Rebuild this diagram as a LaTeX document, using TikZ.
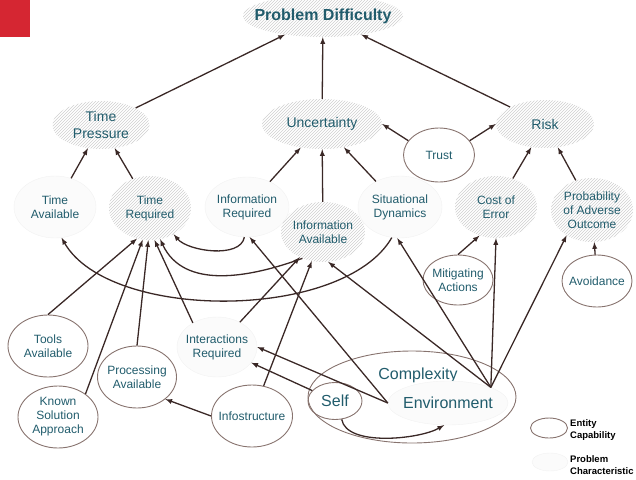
\documentclass[tikz,border=0pt]{standalone}
\usepackage{fontspec}
\setmainfont{Liberation Sans}
\usepackage{xcolor}
\usepackage{tikz}
\usetikzlibrary{arrows,shapes.geometric,patterns}

\definecolor{tealtext}{RGB}{33,92,108}
\definecolor{linebrown}{RGB}{58,40,38}
\definecolor{rimbrown}{RGB}{135,115,110}
\definecolor{cornerred}{RGB}{213,38,50}

\begin{document}
\begin{tikzpicture}[x=1pt,y=-1pt,>=latex,
  every node/.style={shape=ellipse,inner xsep=-6pt,inner ysep=0pt,align=center,text=tealtext,font=\fontsize{12}{14}\selectfont},
  hatch/.style={pattern=north east lines,pattern color=gray!38},
  faint/.style={draw=gray!10,fill=gray!3},
  entity/.style={draw=rimbrown,line width=0.9pt},
  big/.style={font=\fontsize{14}{17}\selectfont},
  link/.style={->,draw=linebrown,line width=1.3pt}]
\useasboundingbox (0,0) rectangle (636,479);
\fill[cornerred] (0,0) rectangle (30,37);

% goal and top factors
\node[hatch,inner xsep=-15pt,minimum width=160,minimum height=42,font=\bfseries\fontsize{16}{18}\selectfont] (PD) at (323,16) {Problem Difficulty};
\node[hatch,big,minimum width=97,minimum height=48] (TP) at (101,125) {Time\\Pressure};
\node[hatch,big,minimum width=120,minimum height=50] (UN) at (322,124) {Uncertainty};
\node[hatch,big,minimum width=98,minimum height=48] (RI) at (545,124) {Risk};
\node[entity,minimum width=71,minimum height=54] (TR) at (439,155) {Trust};

% second row
\node[faint,minimum width=82,minimum height=62] (TA) at (55,207) {Time\\Available};
\node[hatch,minimum width=82,minimum height=64] (TQ) at (150,208) {Time\\Required};
\node[faint,minimum width=84,minimum height=60] (IR) at (247,207) {Information\\Required};
\node[hatch,minimum width=84,minimum height=60] (IA) at (323,232) {Information\\Available};
\node[faint,minimum width=84,minimum height=62] (SD) at (400,207) {Situational\\Dynamics};
\node[hatch,minimum width=82,minimum height=62] (CE) at (496,207) {Cost of\\Error};
\node[hatch,minimum width=82,minimum height=64] (PA) at (592,210) {Probability\\of Adverse\\Outcome};

% capabilities
\node[entity,minimum width=70,minimum height=50] (MA) at (458,280) {Mitigating\\Actions};
\node[entity,minimum width=70,minimum height=52] (AV) at (597,281) {Avoidance};
\node[entity,minimum width=80,minimum height=62] (TO) at (48,346) {Tools\\Available};
\node[faint,minimum width=80,minimum height=60] (IQ) at (217,347) {Interactions\\Required};
\node[entity,minimum width=80,minimum height=62] (KS) at (58,417) {Known\\Solution\\Approach};
\node[entity,minimum width=79,minimum height=62] (PR) at (137,377) {Processing\\Available};
\node[entity,minimum width=81,minimum height=62] (IS) at (252,416) {Infostructure};
\node[entity,minimum width=208,minimum height=92,label={[font=\fontsize{16}{18}\selectfont,text=tealtext,xshift=6pt,yshift=22pt]center:Complexity}] (CX) at (412,397) {};
\node[entity,minimum width=54,minimum height=37,font=\fontsize{16}{18}\selectfont] (SE) at (335,401) {Self};
\node[faint,minimum width=120,minimum height=44,font=\fontsize{16}{18}\selectfont] (EN) at (448,403) {Environment};

% legend
\node[entity,minimum width=37,minimum height=20] (LE) at (549,428) {};
\node[shape=rectangle,inner sep=0pt,anchor=west,align=left,text=black,font=\bfseries\fontsize{9.5}{12}\selectfont] (LET) at (570,430) {Entity\\Capability};
\node[faint,minimum width=36,minimum height=18] (LP) at (550,462) {};
\node[shape=rectangle,inner sep=0pt,anchor=west,align=left,text=black,font=\bfseries\fontsize{9.5}{12}\selectfont] (LPT) at (570,465) {Problem\\Characteristic};

% upward links
\path (TP) edge [link] (PD);
\path (UN) edge [link] (PD);
\path (RI) edge [link] (PD);
\path (TA) edge [link] (TP);
\path (TQ) edge [link] (TP);
\path (IR) edge [link] (UN);
\path (IA) edge [link] (UN);
\path (SD) edge [link] (UN);
\path (TR.155) edge [link] (UN.east);
\path (TR.25) edge [link] (RI.west);
\path (CE) edge [link] (RI);
\path (PA) edge [link] (RI);
\path (MA.north) edge [link] (CE.-120);
\path (AV) edge [link] (PA);

% curved links
\path (IR.-95) edge [link,out=-100,in=-50,looseness=0.8] (TQ.-48);
\path (IA.232) edge [link,out=200,in=-65] (TQ.-72);
\path (SD.-105) edge [link,out=-120,in=-60,looseness=0.75] (TA.-78);
\path (SE.-70) edge [link,out=-80,in=-150,looseness=0.7] (EN.-100);

% into time required
\path (TO.north) edge [link] (TQ.-113);
\path (KS.40) edge [link] (TQ.-103);
\path (PR.north) edge [link] (TQ.-93);
\path (IQ.135) edge [link] (TQ.-82);

% into information available
\path (IQ) edge [link] (IA);
\path (IS) edge [link] (IA);
\path (EN.20) edge [link] (IA.-80);
\path (IS.west) edge [link] (PR.-38);

% from environment and self
\path (EN.west) edge [link] (IR.-85);
\path (EN.west) edge [link] (IQ.east);
\path (SE) edge [link] (IQ);
\path (EN.20) edge [link] (SD.-95);
\path (EN.20) edge [link] (CE.south);
\path (EN.20) edge [link] (PA.-135);
\end{tikzpicture}
\end{document}
